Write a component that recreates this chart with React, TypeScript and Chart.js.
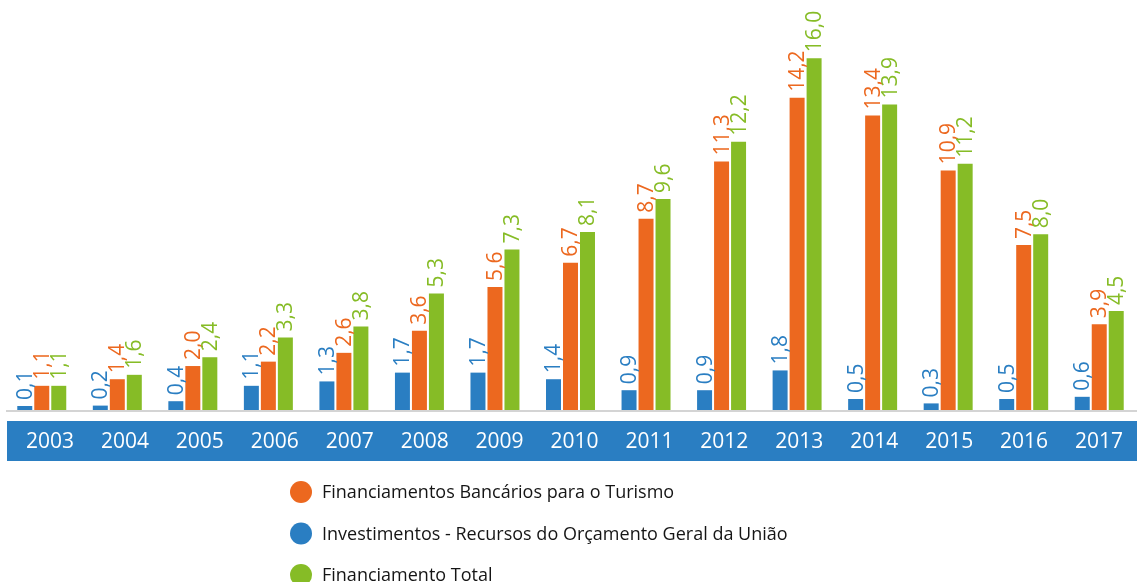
import React, { useEffect, useRef } from "react";
import { Chart, registerables } from "chart.js";

Chart.register(...registerables);

const years = ["2003", "2004", "2005", "2006", "2007", "2008", "2009", "2010", "2011", "2012", "2013", "2014", "2015", "2016", "2017"];
const investimentos = [0.1, 0.2, 0.4, 1.1, 1.3, 1.7, 1.7, 1.4, 0.9, 0.9, 1.8, 0.5, 0.3, 0.5, 0.6];
const bancarios = [1.1, 1.4, 2.0, 2.2, 2.6, 3.6, 5.6, 6.7, 8.7, 11.3, 14.2, 13.4, 10.9, 7.5, 3.9];
const total = [1.1, 1.6, 2.4, 3.3, 3.8, 5.3, 7.3, 8.1, 9.6, 12.2, 16.0, 13.9, 11.2, 8.0, 4.5];

const seriesNames = [
  "Investimentos - Recursos do Orçamento Geral da União",
  "Financiamentos Bancários para o Turismo",
  "Financiamento Total",
];
const legendOrder = [1, 0, 2];

const BLUE = "#2a7ec2";
const ORANGE = "#ec681f";
const GREEN = "#86bc26";
const FONT = "'Open Sans', 'DejaVu Sans', sans-serif";

const fmt = (v: number) => v.toFixed(1).replace(".", ",");

const decorPlugin = {
  id: "decor",
  beforeDatasetsDraw(chart: any) {
    const { ctx, chartArea, width } = chart;
    ctx.save();
    ctx.fillStyle = "#d4d4d4";
    ctx.fillRect(6, chartArea.bottom, width - 6, 2);
    ctx.restore();
  },
  afterDraw(chart: any) {
    const { ctx, width } = chart;
    const labelScale = chart.scales.xl;
    ctx.save();
    // value labels
    ctx.font = `21px ${FONT}`;
    chart.data.datasets.forEach((ds: any, di: number) => {
      const meta = chart.getDatasetMeta(di);
      meta.data.forEach((bar: any, i: number) => {
        ctx.save();
        ctx.translate(bar.x, bar.y - 6);
        ctx.rotate(-Math.PI / 2);
        ctx.fillStyle = ds.backgroundColor;
        ctx.textAlign = "left";
        ctx.textBaseline = "middle";
        ctx.fillText(fmt(ds.data[i]), 0, 1);
        ctx.restore();
      });
    });
    // category band
    ctx.fillStyle = BLUE;
    ctx.fillRect(7, 421, width - 7, 40);
    ctx.fillStyle = "#ffffff";
    ctx.font = `21px ${FONT}`;
    ctx.textAlign = "center";
    ctx.textBaseline = "middle";
    (chart.data.labels as string[]).forEach((lab, i) => {
      ctx.fillText(lab, labelScale.getPixelForValue(i), 442);
    });
    // legend
    legendOrder.forEach((di, row) => {
      const ds = chart.data.datasets[di];
      const cy = 492 + row * 41.5;
      ctx.fillStyle = ds.backgroundColor;
      ctx.beginPath();
      ctx.arc(301, cy, 11, 0, Math.PI * 2);
      ctx.fill();
      ctx.fillStyle = "#151515";
      ctx.font = `18px ${FONT}`;
      ctx.textAlign = "left";
      ctx.textBaseline = "middle";
      ctx.fillText(ds.label, 322, cy + 1);
    });
    ctx.restore();
  },
};

export default function App() {
  const ref = useRef<HTMLCanvasElement>(null);
  useEffect(() => {
    if (!ref.current) return;
    const chart = new Chart(ref.current, {
      type: "bar",
      data: {
        labels: years,
        datasets: [
          { label: seriesNames[0], data: investimentos, backgroundColor: BLUE },
          { label: seriesNames[1], data: bancarios, backgroundColor: ORANGE },
          { label: seriesNames[2], data: total, backgroundColor: GREEN },
        ],
      },
      options: {
        responsive: false,
        animation: false,
        layout: { padding: { left: 4, right: 0, top: 0, bottom: 172 } },
        datasets: { bar: { categoryPercentage: 0.675, barPercentage: 0.882, minBarLength: 4 } },
        scales: {
          x: { display: false },
          xl: {
            type: "linear",
            axis: "x",
            display: false,
            offset: false,
            bounds: "data",
            grace: 0,
            min: -0.614,
            max: 14.507,
          },
          y: { display: false, min: 0, max: 18.65 },
        },
        plugins: { legend: { display: false }, tooltip: { enabled: false } },
      },
      plugins: [decorPlugin],
    });
    return () => chart.destroy();
  }, []);
  return (
    <div style={{ position: "absolute", left: 0, top: 0, width: 1137, height: 582 }}>
      <canvas ref={ref} width={1137} height={582} />
    </div>
  );
}
